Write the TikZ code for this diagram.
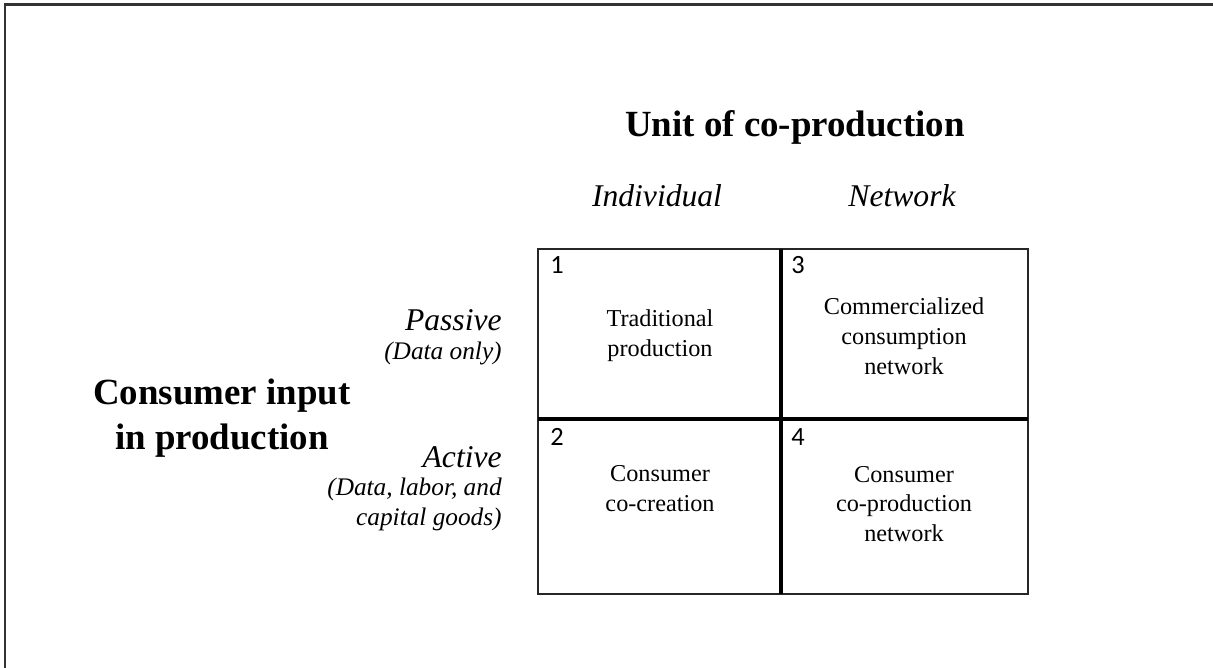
\documentclass[tikz,border=0pt]{standalone}
\usepackage{fontspec}
\setmainfont{Liberation Serif}
\newfontfamily\numfont{Carlito}
\usetikzlibrary{positioning}

\begin{document}
\begin{tikzpicture}[x=0.02cm, y=-0.02cm,
  head/.style={font=\fontsize{21}{25.5}\selectfont\bfseries, align=center, inner sep=0pt},
  colhd/.style={font=\fontsize{18}{20}\selectfont\itshape, inner sep=0pt},
  rowhd/.style={font=\fontsize{18}{20}\selectfont\itshape, anchor=east, inner sep=0pt},
  rowsub/.style={font=\fontsize{14.4}{17}\selectfont\itshape, anchor=east, align=right, inner sep=0pt},
  cell/.style={font=\fontsize{13.8}{17}\selectfont, align=center, inner sep=0pt},
  num/.style={font=\numfont\fontsize{15}{18}\selectfont, anchor=north west, inner sep=0pt},
  edge/.style={line width=0.9pt, black!85},
  split/.style={line width=1.8pt}
]
\useasboundingbox (0,0) rectangle (1213,668);

% page frame
\draw[line width=1.2pt, black!80] (1213,4.5) -- (5,4.5) -- (5,668);

% ======= headings =======
\node[head] (unit) at (795,127) {Unit of co-production};
\node[colhd] (indiv) at (657,196) {Individual};
\node[colhd] (netw) at (902,196) {Network};

\node[head] (input) at (222,418) {Consumer input\\in production};

\node[rowhd] (pass) at (502,320) {Passive};
\node[rowsub] (passsub) at (502,353) {(Data only)};
\node[rowhd] (act) at (502,457) {Active};
\node[rowsub] (actsub) at (502,504) {(Data, labor, and\\capital goods)};

% ======= grid =======
\coordinate (nw) at (538,249);
\coordinate (se) at (1028,594);
\draw[edge] (nw) rectangle (se);
\draw[split] (781,249) -- (781,594);
\draw[split] (538,419) -- (1028,419);

% ======= cells =======
\node[num] (n1) at (550,256) {1};
\node[num] (n3) at (791,256) {3};
\node[num] (n2) at (550,428) {2};
\node[num] (n4) at (791,428) {4};

\node[cell] (c1) at (660,336) {Traditional\\production};
\node[cell] (c3) at (904,336) {Commercialized\\consumption\\network};
\node[cell] (c2) at (660,489) {Consumer\\co-creation};
\node[cell] (c4) at (904,504) {Consumer\\co-production\\network};

\end{tikzpicture}
\end{document}
